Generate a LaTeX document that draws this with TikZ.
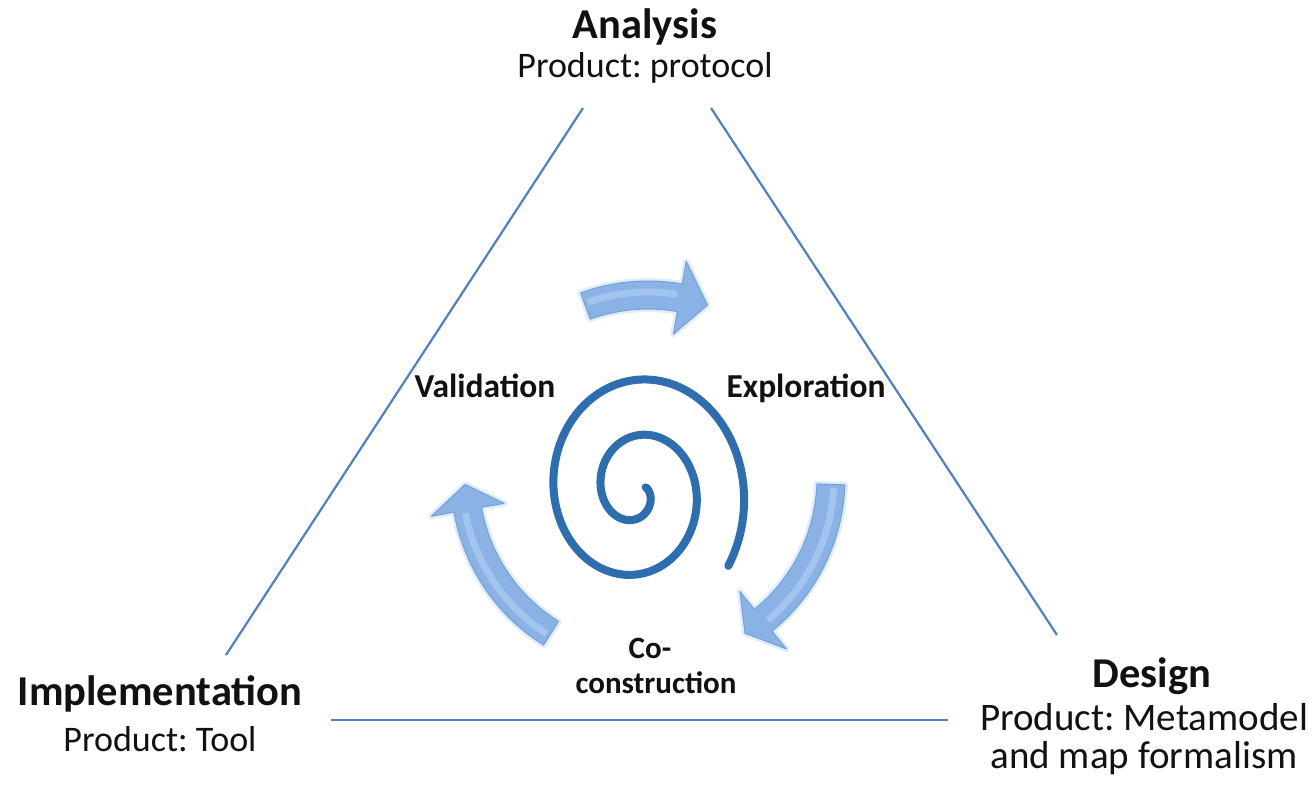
\documentclass[tikz,border=0pt]{standalone}
\usepackage{fontspec}
\setmainfont{Carlito}
\definecolor{edgeblue}{RGB}{79,129,189}
\definecolor{spiralblue}{RGB}{46,110,174}
\definecolor{arrowblue}{RGB}{138,178,228}
\definecolor{arrowlight}{RGB}{172,206,244}
\definecolor{arrowedge}{RGB}{118,160,214}
\definecolor{arrowglow}{RGB}{205,225,248}
\definecolor{txt}{RGB}{17,17,17}
\newcommand\curvearr[3]{%
  \path[glowline] plot[domain=#1:#2, samples=30] (\x:197) -- (#2:220) -- (#3:183) -- (#2:146) -- plot[domain=#2:#1, samples=30] (\x:169) -- cycle;
  \path[barrow] plot[domain=#1:#2, samples=30] (\x:197) -- (#2:220) -- (#3:183) -- (#2:146) -- plot[domain=#2:#1, samples=30] (\x:169) -- cycle;
  \draw[hilite] plot[domain=#1+1:#2-1, samples=30] (\x:186);
}
\begin{document}
\frenchspacing
\begin{tikzpicture}[x=1pt,y=-1pt,
  side/.style={draw=edgeblue, line width=2.2pt},
  title/.style={font=\bfseries\fontsize{42.5}{50}\selectfont, text=txt, anchor=base, inner sep=0pt},
  prod/.style={font=\fontsize{36}{42}\selectfont, text=txt, anchor=base, inner sep=0pt},
  prodwide/.style={font=\fontsize{39}{42}\selectfont, text=txt, anchor=base, inner sep=0pt},
  phase/.style={font=\bfseries\fontsize{33.5}{38}\selectfont, text=txt, anchor=base, inner sep=0pt},
  phasesmall/.style={font=\bfseries\fontsize{31}{36}\selectfont, text=txt, anchor=base, inner sep=0pt},
  spiralline/.style={draw=spiralblue, line width=8pt, line cap=round},
  barrow/.style={fill=arrowblue, draw=arrowedge, line width=1pt, line join=round},
  glowline/.style={draw=arrowglow, line width=6pt, opacity=0.6, line join=round},
  hilite/.style={draw=arrowlight, line width=7pt, opacity=0.7}]
\useasboundingbox (0,0) rectangle (1312,785);
\fill[white] (0,0) rectangle (1312,785);

% labels
\node[title] (analysis) at (645,38) {Analysis};
\node[prod] (protocol) at (645,77) {Product: protocol};
\node[title] (impl) at (160,705) {Implementation};
\node[prod] (tool) at (160,751) {Product: Tool};
\node[title] (design) at (1152,687) {Design};
\node[prodwide] (meta) at (1144,730) {Product: Metamodel};
\node[prodwide] (formal) at (1144,768) {and map formalism};

\node[phase] (valid) at (485,397) {Validation};
\node[phase] (explo) at (806,397) {Exploration};
\node[phasesmall] (co) at (650,658) {Co-};
\node[phasesmall] (constr) at (656,693) {construction};

% triangle sides
\coordinate (lb) at (226,655);
\coordinate (lt) at (583,108);
\coordinate (rt) at (711,108);
\coordinate (rb) at (1057,635);
\coordinate (bl) at (331,720);
\coordinate (br) at (948,720);
\draw[side] (lb) -- (lt);
\draw[side] (rt) -- (rb);
\draw[side] (bl) -- (br);

% cycle arrows
\begin{scope}[shift={(648,478)}]
\curvearr{-110}{-80}{-71}
\curvearr{2}{51}{58}
\curvearr{122}{170}{178}
\end{scope}

% spiral
\draw[spiralline] plot[domain=-20:755, samples=300, smooth]
  ({636.9+(11.9+0.132*\x)*cos(\x)}, {491+1.17*(11.9+0.132*\x)*sin(\x)});
\end{tikzpicture}
\end{document}
